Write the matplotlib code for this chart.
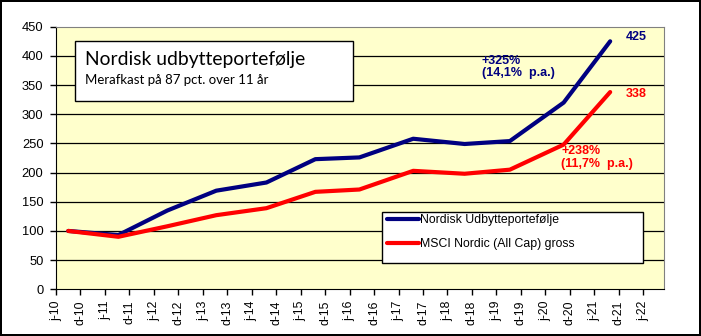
import matplotlib
matplotlib.use('Agg')
import matplotlib.pyplot as plt
from matplotlib.patches import Rectangle

# x-axis category labels (half-year steps)
tick_labels = ['j-10', 'd-10', 'j-11', 'd-11', 'j-12', 'd-12', 'j-13', 'd-13',
               'j-14', 'd-14', 'j-15', 'd-15', 'j-16', 'd-16', 'j-17', 'd-17',
               'j-18', 'd-18', 'j-19', 'd-19', 'j-20', 'd-20', 'j-21', 'd-21', 'j-22']

obs_pos = [0.5, 2.55, 4.55, 6.55, 8.6, 10.6, 12.4, 14.6, 16.7, 18.55, 20.75, 22.65]

nordisk = [100, 93, 135, 169, 183, 223, 226, 258, 249, 254, 320, 425]
msci = [100, 90, 108, 127, 139, 167, 171, 203, 198, 205, 248, 338]

series_names = ['Nordisk Udbytteportefølje', 'MSCI Nordic (All Cap) gross']

NAVY = '#000080'
RED = '#ff0000'

plt.rcParams['font.family'] = ['Liberation Sans', 'DejaVu Sans']

W, H = 701, 336
fig = plt.figure(figsize=(W / 100, H / 100), dpi=100)
fig.patch.set_facecolor('white')
fig.patch.set_edgecolor('black')
fig.patch.set_linewidth(1.5)

ax = fig.add_axes([56 / W, 1 - 289.3 / H, (664 - 56) / W, (289.3 - 26.7) / H])
ax.set_facecolor('#ffffcc')

ax.set_xlim(0, 24.85)
ax.set_ylim(0, 450)
ax.set_yticks(range(0, 451, 50))
ax.set_xticks(range(len(tick_labels)))
ax.set_xticklabels(tick_labels, rotation=90, fontsize=8.8)
ax.tick_params(axis='y', labelsize=9.3, length=4, width=1, pad=5)
ax.tick_params(axis='x', length=4, width=1, pad=4)

for y in range(50, 450, 50):
    ax.axhline(y, color='black', lw=0.9, zorder=1)

for side in ['top', 'right']:
    ax.spines[side].set_color('#808080')
for side in ['left', 'bottom']:
    ax.spines[side].set_color('black')

l1, = ax.plot(obs_pos, nordisk, color=NAVY, lw=3, solid_capstyle='round', zorder=3)
l2, = ax.plot(obs_pos, msci, color=RED, lw=3, solid_capstyle='round', zorder=3)

# value / return annotations
ax.text(23.27, 432, '425', color=NAVY, fontsize=9, fontweight='bold', va='center')
ax.text(23.27, 335, '338', color=RED, fontsize=9, fontweight='bold', va='center')
ax.text(17.4, 402, '+325%\n(14,1%  p.a.)', color=NAVY, fontsize=9, fontweight='bold',
        va='top', linespacing=1.05)
ax.text(20.65, 247, '+238%\n(11,7%  p.a.)', color=RED, fontsize=9, fontweight='bold',
        va='top', linespacing=1.05)

# title box
fig.patches.append(Rectangle((75 / W, 1 - 101 / H), (353 - 75) / W, (101 - 41) / H,
                             transform=fig.transFigure, facecolor='white',
                             edgecolor='black', lw=1, zorder=5))
fig.text(85 / W, 1 - 60 / H, 'Nordisk udbytteportefølje', fontsize=13.9, family='Lato',
         va='center', zorder=6)
fig.text(85 / W, 1 - 80 / H, 'Merafkast på 87 pct. over 11 år', fontsize=9.5, family='Lato',
         va='center', zorder=6)

# legend box
fig.patches.append(Rectangle((382 / W, 1 - 263 / H), (643 - 382) / W, (263 - 212) / H,
                             transform=fig.transFigure, facecolor='white',
                             edgecolor='black', lw=1, zorder=5))
leg = fig.legend([l1, l2], series_names, loc='upper left',
                 bbox_to_anchor=(382 / W, 1 - 209 / H), bbox_transform=fig.transFigure,
                 frameon=False, fontsize=8.8, handlelength=2.6, handletextpad=0.15,
                 labelspacing=1.0, borderaxespad=0)
leg.set_zorder(7)

fig.savefig('out.png', dpi=100)
